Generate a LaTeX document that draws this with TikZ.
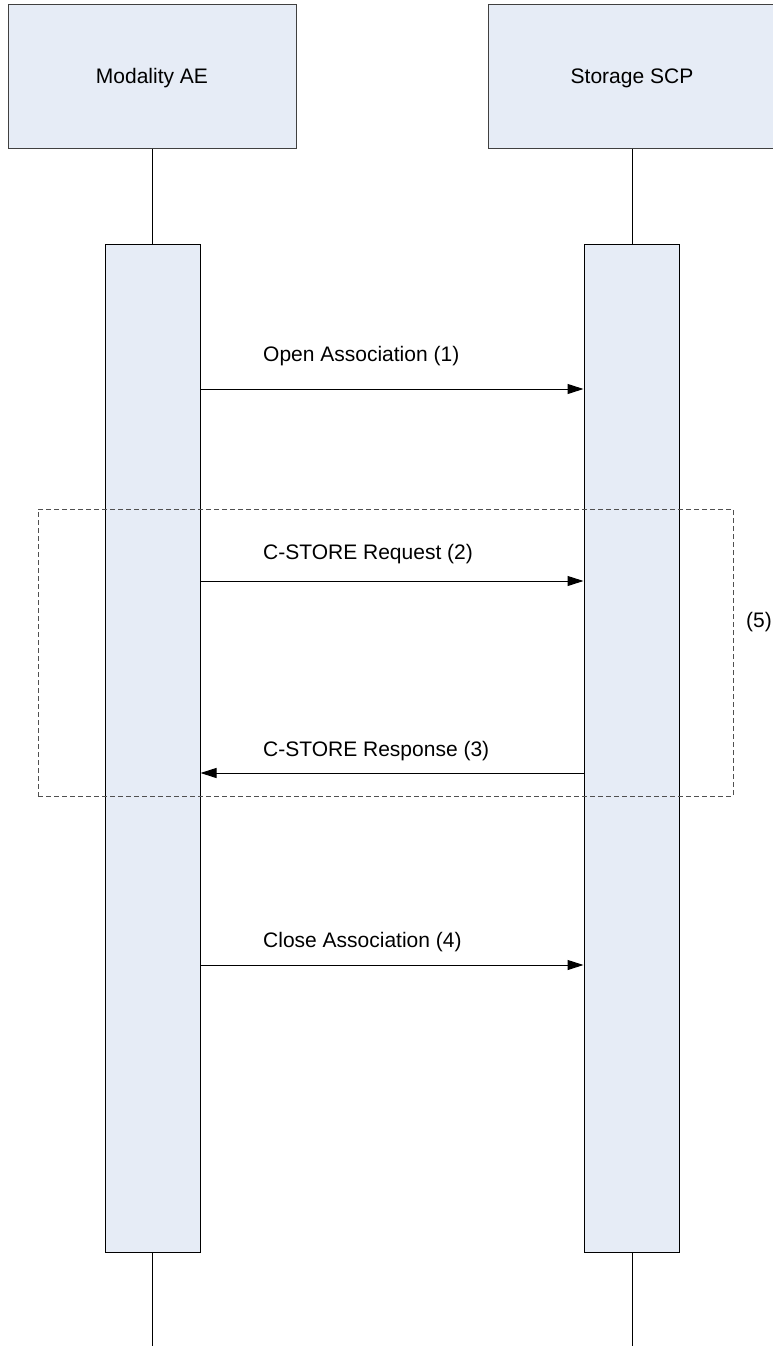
\documentclass[tikz,border=0pt]{standalone}
\usepackage{fontspec}
\setmainfont{Liberation Sans}
\usetikzlibrary{arrows.meta}
\definecolor{boxfill}{RGB}{230,236,246}
\definecolor{boxline}{RGB}{64,64,64}
\definecolor{dashline}{RGB}{80,80,80}
\tikzset{
  headbox/.style={draw=boxline, line width=1pt, fill=boxfill, minimum width=288pt, minimum height=144pt,
    inner sep=0pt, text height=15pt, text depth=0pt, font=\fontsize{21}{25}\selectfont},
  actbar/.style={draw=black, line width=1pt, fill=boxfill, minimum width=95pt, minimum height=1008pt, inner sep=0pt},
  lifeline/.style={draw=black, line width=1pt},
  msg/.style={draw=black, line width=1pt, -{Triangle[length=16pt,width=10pt]}},
  msglabel/.style={anchor=base west, inner sep=0pt, font=\fontsize{21}{25}\selectfont},
  groupbox/.style={draw=dashline, line width=1pt, dash pattern=on 5pt off 3pt},
}
\begin{document}
\begin{tikzpicture}[x=1pt,y=-1pt]
\useasboundingbox (0,0) rectangle (773,1346);
\begin{scope}
\clip (0,0) rectangle (773,1346);
% header boxes
\node[headbox] (ae) at (152,76.5) {Modality AE};
\node[headbox] (scp) at (632,76.5) {Storage SCP};
% activation bars
\node[actbar] (bar1) at (152.5,748) {};
\node[actbar] (bar2) at (631.5,748) {};
\end{scope}
% lifelines
\coordinate (end1) at (152,1346);
\coordinate (end2) at (632,1346);
\draw[lifeline] (ae.south) -- (ae.south |- bar1.north);
\draw[lifeline] (scp.south) -- (scp.south |- bar2.north);
\draw[lifeline] (bar1.south -| end1) -- (end1);
\draw[lifeline] (bar2.south -| end2) -- (end2);
% group box
\node[groupbox, minimum width=695pt, minimum height=287pt, inner sep=0pt] (grp) at (385.5,652.5) {};
\node[msglabel] (l5) at (746,627) {(5)};
% messages
\coordinate (m1) at (0,389);
\coordinate (m2) at (0,581);
\coordinate (m3) at (0,773);
\coordinate (m4) at (0,965);
\draw[msg] (bar1.east |- m1) -- (bar2.west |- m1);
\draw[msg] (bar1.east |- m2) -- (bar2.west |- m2);
\draw[msg] (bar2.west |- m3) -- (bar1.east |- m3);
\draw[msg] (bar1.east |- m4) -- (bar2.west |- m4);
\node[msglabel] (l1) at (263,361) {Open Association (1)};
\node[msglabel] (l2) at (263,559) {C-STORE Request (2)};
\node[msglabel] (l3) at (263,756) {C-STORE Response (3)};
\node[msglabel] (l4) at (263,947) {Close Association (4)};
\end{tikzpicture}
\end{document}
